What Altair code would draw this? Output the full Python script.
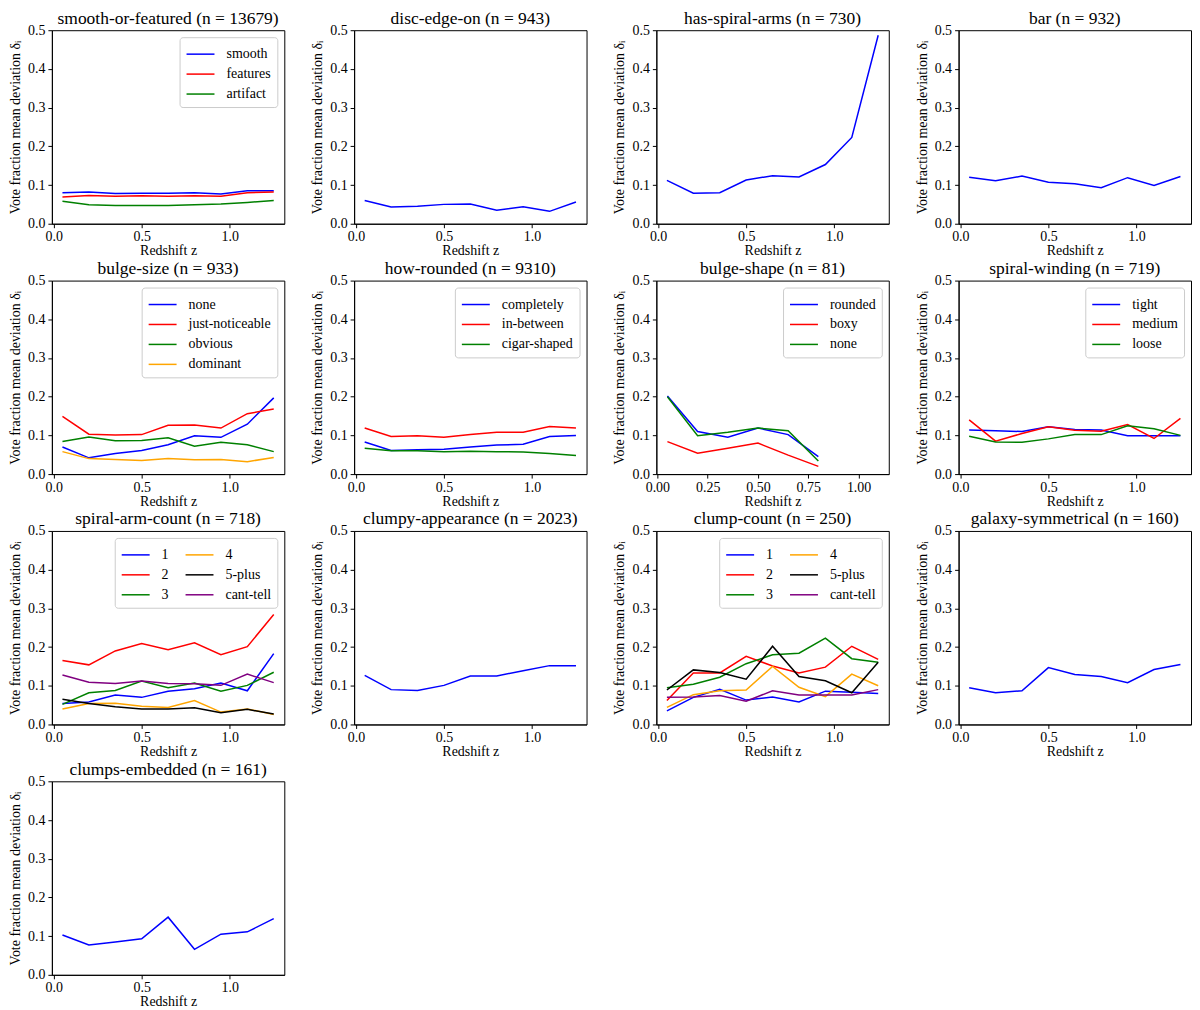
import altair as alt
import pandas as pd

# redshift bin centres
z = [0.05, 0.20, 0.35, 0.50, 0.65, 0.80, 0.95, 1.10, 1.25]
z_short = [0.05, 0.20, 0.35, 0.50, 0.65, 0.80]

colors6 = ["blue", "red", "green", "orange", "black", "purple"]

# ---- series values ----
smooth_labels = ["smooth", "features", "artifact"]
smooth_vals = [
    [0.080, 0.082, 0.078, 0.079, 0.079, 0.080, 0.077, 0.085, 0.085],
    [0.069, 0.073, 0.071, 0.072, 0.071, 0.072, 0.071, 0.080, 0.082],
    [0.058, 0.049, 0.047, 0.047, 0.047, 0.049, 0.051, 0.055, 0.060],
]
disc_vals = [[0.060, 0.043, 0.045, 0.050, 0.051, 0.035, 0.044, 0.032, 0.056]]
spiral_vals = [[0.112, 0.079, 0.080, 0.113, 0.124, 0.121, 0.153, 0.223, 0.487]]
bar_vals = [[0.120, 0.111, 0.123, 0.107, 0.103, 0.093, 0.119, 0.099, 0.122]]

bulge_size_labels = ["none", "just-noticeable", "obvious", "dominant"]
bulge_size_vals = [
    [0.070, 0.042, 0.053, 0.061, 0.076, 0.099, 0.095, 0.129, 0.197],
    [0.149, 0.103, 0.101, 0.102, 0.126, 0.127, 0.119, 0.156, 0.168],
    [0.084, 0.096, 0.086, 0.087, 0.094, 0.072, 0.082, 0.076, 0.058],
    [0.058, 0.040, 0.038, 0.035, 0.040, 0.037, 0.038, 0.032, 0.043],
]
rounded_labels = ["completely", "in-between", "cigar-shaped"]
rounded_vals = [
    [0.083, 0.061, 0.063, 0.064, 0.070, 0.075, 0.077, 0.097, 0.100],
    [0.119, 0.097, 0.099, 0.095, 0.102, 0.108, 0.108, 0.123, 0.119],
    [0.067, 0.060, 0.060, 0.058, 0.059, 0.058, 0.057, 0.053, 0.048],
]
bulge_shape_labels = ["rounded", "boxy", "none"]
bulge_shape_vals = [
    [0.202, 0.110, 0.095, 0.119, 0.102, 0.045],
    [0.084, 0.054, 0.067, 0.080, 0.049, 0.020],
    [0.200, 0.099, 0.108, 0.119, 0.112, 0.034],
]
winding_labels = ["tight", "medium", "loose"]
winding_vals = [
    [0.114, 0.112, 0.110, 0.122, 0.115, 0.114, 0.099, 0.099, 0.099],
    [0.140, 0.085, 0.105, 0.122, 0.113, 0.111, 0.128, 0.092, 0.144],
    [0.098, 0.083, 0.082, 0.091, 0.102, 0.102, 0.125, 0.117, 0.100],
]
count_labels = ["1", "2", "3", "4", "5-plus", "cant-tell"]
arm_count_vals = [
    [0.054, 0.058, 0.076, 0.070, 0.086, 0.092, 0.107, 0.087, 0.183],
    [0.165, 0.154, 0.190, 0.209, 0.193, 0.211, 0.180, 0.201, 0.284],
    [0.052, 0.082, 0.088, 0.112, 0.095, 0.107, 0.086, 0.101, 0.135],
    [0.040, 0.054, 0.055, 0.047, 0.044, 0.062, 0.032, 0.040, 0.026],
    [0.065, 0.054, 0.046, 0.040, 0.040, 0.043, 0.030, 0.039, 0.027],
    [0.128, 0.109, 0.106, 0.112, 0.106, 0.105, 0.101, 0.130, 0.108],
]
clumpy_vals = [[0.127, 0.090, 0.088, 0.101, 0.125, 0.125, 0.139, 0.152, 0.152]]
clump_count_vals = [
    [0.035, 0.070, 0.091, 0.063, 0.071, 0.058, 0.086, 0.083, 0.080],
    [0.062, 0.133, 0.133, 0.176, 0.151, 0.133, 0.148, 0.202, 0.168],
    [0.095, 0.104, 0.122, 0.157, 0.180, 0.184, 0.223, 0.170, 0.161],
    [0.044, 0.077, 0.087, 0.089, 0.150, 0.096, 0.072, 0.130, 0.100],
    [0.089, 0.141, 0.134, 0.117, 0.202, 0.124, 0.113, 0.082, 0.161],
    [0.070, 0.071, 0.075, 0.060, 0.087, 0.076, 0.076, 0.076, 0.090],
]
symmetric_vals = [[0.095, 0.082, 0.087, 0.147, 0.129, 0.124, 0.108, 0.142, 0.155]]
embedded_vals = [[0.103, 0.077, 0.085, 0.093, 0.149, 0.066, 0.105, 0.111, 0.145]]

panel_titles = [
    "smooth-or-featured", "disc-edge-on", "has-spiral-arms", "bar",
    "bulge-size", "how-rounded", "bulge-shape", "spiral-winding",
    "spiral-arm-count", "clumpy-appearance", "clump-count", "galaxy-symmetrical",
    "clumps-embedded",
]
panel_n = [13679, 943, 730, 932, 933, 9310, 81, 719, 718, 2023, 250, 160, 161]
panel_labels = [
    smooth_labels, ["yes"], ["yes"], ["yes"],
    bulge_size_labels, rounded_labels, bulge_shape_labels, winding_labels,
    count_labels, ["yes"], count_labels, ["yes"], ["yes"],
]
panel_vals = [
    smooth_vals, disc_vals, spiral_vals, bar_vals,
    bulge_size_vals, rounded_vals, bulge_shape_vals, winding_vals,
    arm_count_vals, clumpy_vals, clump_count_vals, symmetric_vals, embedded_vals,
]
panel_z = [z, z, z, z, z, z, z_short, z, z, z, z, z, z]

FONT = "Liberation Serif"
W, H = 233, 194


def make_panel(i):
    labels = panel_labels[i]
    vals = panel_vals[i]
    zs = panel_z[i]
    rows = []
    for k, (lab, series) in enumerate(zip(labels, vals)):
        for zz, v in zip(zs, series):
            rows.append({"z": zz, "delta": v, "answer": lab, "k": k})
    df = pd.DataFrame(rows)

    cols = colors6[: len(labels)]
    show_legend = len(labels) > 1

    if show_legend:
        legend = alt.Legend(
            title=None,
            orient="top-right",
            offset=7,
            columns=2 if len(labels) == 6 else 1,
            columnPadding=14,
            symbolType="M-1,0H1.8",
            symbolSize=400,
            symbolStrokeWidth=1.5,
            rowPadding=2,
            labelOffset=19,
            labelFont=FONT,
            labelFontSize=14,
            labelColor="black",
            padding=6,
            strokeColor="#cccccc",
            fillColor="white",
            cornerRadius=3,
        )
    else:
        legend = None

    if i == 6:
        xdom = [-0.005, 1.15]
        xvals = [0.0, 0.25, 0.5, 0.75, 1.0]
        xfmt = ".2f"
    else:
        xdom = [-0.01, 1.31]
        xvals = [0.0, 0.5, 1.0]
        xfmt = ".1f"

    ch = (
        alt.Chart(df)
        .mark_line(strokeWidth=1.5, clip=True)
        .encode(
            x=alt.X(
                "z:Q",
                scale=alt.Scale(domain=xdom, nice=False, zero=False),
                axis=alt.Axis(values=xvals, format=xfmt, title="Redshift z",
                              labelFlush=False),
            ),
            y=alt.Y(
                "delta:Q",
                scale=alt.Scale(domain=[0, 0.5], nice=False),
                axis=alt.Axis(values=[0, 0.1, 0.2, 0.3, 0.4, 0.5], format=".1f",
                              title="Vote fraction mean deviation δᵢ"),
            ),
            color=alt.Color("answer:N", scale=alt.Scale(domain=labels, range=cols),
                            legend=legend),
            order=alt.Order("k:Q"),
        )
        .properties(
            width=W, height=H,
            title=alt.TitleParams(f"{panel_titles[i]} (n = {panel_n[i]})", dy=8),
        )
    )
    return ch


charts = [make_panel(i) for i in range(len(panel_titles))]

chart = (
    alt.concat(*charts, columns=4, spacing=alt.RowColnumber(row=1, column=25))
    .resolve_scale(color="independent")
    .properties(padding={"left": 0, "top": 0, "right": 0, "bottom": 0})
    .configure_view(stroke="black", strokeWidth=1)
    .configure_axis(
        grid=False,
        domainColor="black",
        tickColor="black",
        tickSize=4,
        labelFont=FONT,
        labelFontSize=14,
        labelColor="black",
        labelPadding=3,
        titleFont=FONT,
        titleFontSize=14,
        titleFontWeight="normal",
        titleColor="black",
    )
    .configure_axisX(titlePadding=0, labelPadding=2)
    .configure_axisY(titlePadding=5)
    .configure_title(font=FONT, fontSize=17.5, fontWeight="normal", color="black",
                     offset=0, frame="group", anchor="middle")
)

chart.save("out.html", embed_options={"renderer": "svg", "actions": False})
